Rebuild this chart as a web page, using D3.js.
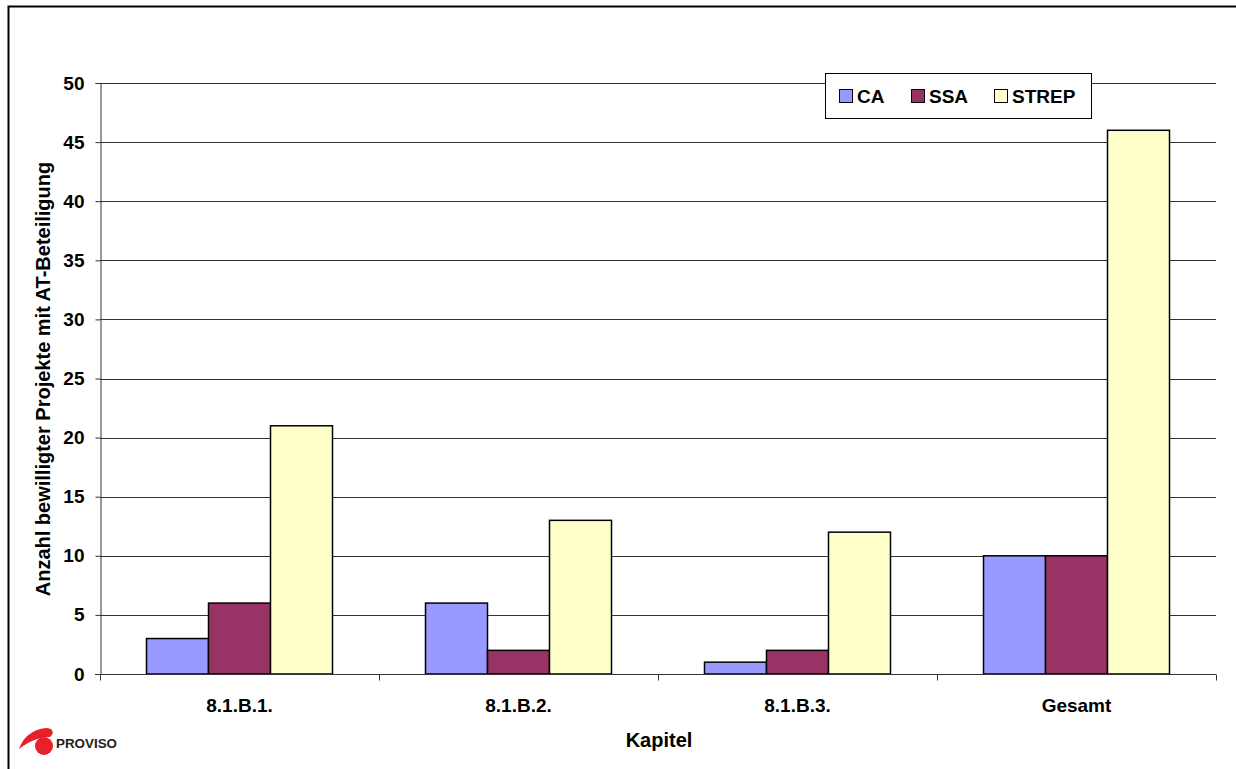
<!DOCTYPE html>
<html><head><meta charset="utf-8">
<script src="https://cdn.jsdelivr.net/npm/d3@7"></script>
<style>body{margin:0;background:#fff}svg{display:block;font-family:"Liberation Sans",Arial,sans-serif}</style>
</head><body>
<script>
const categories = ["8.1.B.1.", "8.1.B.2.", "8.1.B.3.", "Gesamt"];
const seriesNames = ["CA", "SSA", "STREP"];
const CA = [3, 6, 1, 10];
const SSA = [6, 2, 2, 10];
const STREP = [21, 13, 12, 46];
const yTicks = [0, 5, 10, 15, 20, 25, 30, 35, 40, 45, 50];
const colors = ["#9999FF", "#993366", "#FFFFCC"];

const W = 1236, H = 769;
const m = {left: 100, right: 1216, top: 83, bottom: 674};
const FS = 19;
const svg = d3.select("body").append("svg").attr("width", W).attr("height", H);

// outer border
svg.append("rect").attr("x", 8.5).attr("y", 6.5).attr("width", 1240).attr("height", 780)
  .attr("fill", "none").attr("stroke", "#000").attr("stroke-width", 2);

const x = d3.scaleBand().domain(categories).range([m.left, m.right]);
const x1 = d3.scaleBand().domain(seriesNames).range([0, x.bandwidth()]).paddingOuter(0.75);
const y = d3.scaleLinear().domain([0, 50]).range([m.bottom, m.top]);

// gridlines
svg.append("g").selectAll("line").data(yTicks.filter(d => d > 0)).join("line")
  .attr("x1", m.left).attr("x2", m.right)
  .attr("y1", d => Math.round(y(d)) + 0.5).attr("y2", d => Math.round(y(d)) + 0.5)
  .attr("stroke", "#333").attr("stroke-width", 1);

// bars
const data = [CA, SSA, STREP];
categories.forEach((c, i) => {
  seriesNames.forEach((s, j) => {
    const v = data[j][i];
    svg.append("rect")
      .attr("x", x(c) + x1(s))
      .attr("y", y(v))
      .attr("width", x1.bandwidth())
      .attr("height", y(0) - y(v))
      .attr("fill", colors[j]).attr("stroke", "#000").attr("stroke-width", 1.5);
  });
});

// y axis
const yAxis = d3.axisLeft(y).tickValues(yTicks).tickSize(5).tickPadding(11);
const gy = svg.append("g").attr("transform", `translate(${m.left + 0.5},0)`).call(yAxis);
gy.selectAll("path,line").attr("stroke", "#333");
gy.selectAll("text").attr("font-size", FS).attr("font-weight", "bold").attr("fill", "#000")
  .attr("font-family", "Liberation Sans, Arial, sans-serif");

// x axis
const gx = svg.append("g").attr("transform", `translate(0,${m.bottom + 0.5})`);
gx.append("line").attr("x1", m.left - 5).attr("x2", m.right).attr("stroke", "#333");
const edges = categories.map(c => x(c)).concat([m.right]);
gx.selectAll("line.t").data(edges).join("line").attr("class", "t")
  .attr("x1", d => Math.round(d) + 0.5).attr("x2", d => Math.round(d) + 0.5)
  .attr("y1", 0).attr("y2", 6).attr("stroke", "#333");
gx.selectAll("text").data(categories).join("text")
  .attr("x", d => x(d) + x.bandwidth() / 2).attr("y", 37)
  .attr("text-anchor", "middle").attr("font-size", FS).attr("font-weight", "bold").text(d => d);

// axis titles
svg.append("text").attr("x", 659).attr("y", 747).attr("text-anchor", "middle")
  .attr("font-size", 20).attr("font-weight", "bold").text("Kapitel");
svg.append("text").attr("transform", "translate(50,379) rotate(-90)").attr("text-anchor", "middle")
  .attr("font-size", 20).attr("font-weight", "bold").text("Anzahl bewilligter Projekte mit AT-Beteiligung");

// legend
const lg = svg.append("g");
lg.append("rect").attr("x", 825.5).attr("y", 73.5).attr("width", 266).attr("height", 45)
  .attr("fill", "#fff").attr("stroke", "#000").attr("stroke-width", 1);
const lx = [839, 911, 994];
seriesNames.forEach((s, j) => {
  lg.append("rect").attr("x", lx[j] + 0.5).attr("y", 89.5).attr("width", 13).attr("height", 13)
    .attr("fill", colors[j]).attr("stroke", "#000").attr("stroke-width", 1);
  lg.append("text").attr("x", lx[j] + 18).attr("y", 103).attr("font-size", FS).attr("font-weight", "bold").text(s);
});

// logo
const logo = svg.append("g");
logo.append("path").attr("d", "M19,749 C23,737 33,729 46,728 C53,728 55,733 50,737 C40,737 29,741 19,749 Z").attr("fill", "#e8202a");
logo.append("circle").attr("cx", 44).attr("cy", 746).attr("r", 9).attr("fill", "#e8202a");
logo.append("text").attr("x", 56).attr("y", 748).attr("font-size", 12).attr("font-weight", "bold")
  .attr("textLength", 61).attr("lengthAdjust", "spacingAndGlyphs")
  .attr("fill", "#222").text("PROVISO");
</script>
</body></html>
